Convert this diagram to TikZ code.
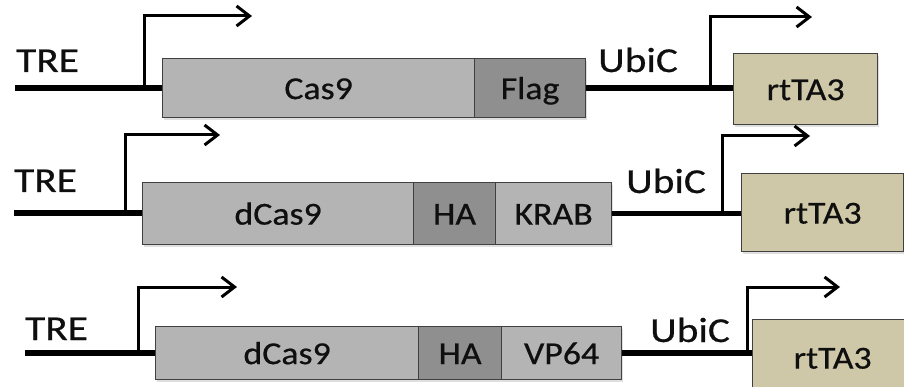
\documentclass[tikz,border=0pt]{standalone}
\usepackage{fontspec}
\setmainfont{Carlito}
\newfontfamily\boxfont[FakeStretch=1.12,FakeBold=0.6]{Carlito}
\newfontfamily\lblfont[FakeStretch=1.18,FakeBold=0.6]{Carlito}
\usetikzlibrary{arrows.meta,shadows}
\definecolor{lgray}{RGB}{180,180,180}
\definecolor{dgray}{RGB}{143,143,143}
\definecolor{tan}{RGB}{206,200,168}
\definecolor{edge}{RGB}{64,64,64}
\definecolor{ink}{RGB}{15,15,15}
\tikzset{
  gbox/.style={draw=edge, line width=1.2pt, rectangle, inner sep=0pt, anchor=north west,
    text=ink, font=\boxfont\fontsize{32}{32}\selectfont, text height=22pt, text depth=0pt,
    drop shadow={shadow xshift=1.5pt, shadow yshift=-2pt, opacity=0.25}},
  light/.style={gbox, fill=lgray},
  dark/.style={gbox, fill=dgray},
  rtbox/.style={gbox, fill=tan},
  dna/.style={line width=5.5pt, black},
  prom/.style={line width=3pt, black, -{Straight Barb[length=13pt,width=20pt]}},
  trelbl/.style={anchor=base west, inner sep=0pt, text=ink, font=\lblfont\fontsize{35}{35}\selectfont},
  ubilbl/.style={anchor=base west, inner sep=0pt, text=ink, font=\lblfont\fontsize{35}{35}\selectfont},
}
\begin{document}
\begin{tikzpicture}[x=1pt, y=-1pt]
\clip (0,0) rectangle (904,387);
\fill[white] (0,0) rectangle (904,387);

% ---------- Row 1 ----------
\coordinate (s1) at (15,88);
\coordinate (p1) at (144,88);
\coordinate (t1) at (252,16);
\coordinate (q1) at (710,88);
\coordinate (u1) at (812,17);
\node[trelbl] (tre1) at (16,72) {TRE};
\node[ubilbl] (ubi1) at (598,72) {UbiC};
\draw[dna] (s1) -- (162,88);
\node[light, minimum width=312pt, minimum height=59pt] (cas) at (162,58) {Cas9};
\node[dark, minimum width=111pt, minimum height=59pt] (flag) at (474,58) {Flag};
\node[rtbox, minimum width=144pt, minimum height=71pt] (rt1) at (733,53) {rtTA3};
\draw[dna] (flag.east) -- (flag.east -| rt1.west);
\draw[prom] (p1) |- (t1);
\draw[prom] (q1) |- (u1);

% ---------- Row 2 ----------
\coordinate (s2) at (14,213);
\coordinate (p2) at (125,213);
\coordinate (t2) at (220,135);
\coordinate (q2) at (722,213);
\coordinate (u2) at (810,136);
\node[trelbl] (tre2) at (14,192) {TRE};
\node[ubilbl] (ubi2) at (626,193) {UbiC};
\draw[dna] (s2) -- (142,213);
\node[light, minimum width=271pt, minimum height=62pt] (dc2) at (142,182) {dCas9};
\node[dark, minimum width=82pt, minimum height=62pt] (ha2) at (413,182) {HA};
\node[light, minimum width=116pt, minimum height=62pt] (krab) at (495,182) {KRAB};
\node[rtbox, minimum width=162pt, minimum height=78pt] (rt2) at (741,173) {rtTA3};
\draw[dna] (krab.east) -- (krab.east -| rt2.west);
\draw[prom] (p2) |- (t2);
\draw[prom] (q2) |- (u2);

% ---------- Row 3 ----------
\coordinate (s3) at (25,353);
\coordinate (p3) at (138,353);
\coordinate (t3) at (237,287);
\coordinate (q3) at (747,353);
\coordinate (u3) at (840,287);
\node[trelbl] (tre3) at (25,340) {TRE};
\node[ubilbl] (ubi3) at (650,342) {UbiC};
\draw[dna] (s3) -- (155,353);
\node[light, minimum width=263pt, minimum height=53pt] (dc3) at (155,326) {dCas9};
\node[dark, minimum width=83pt, minimum height=53pt] (ha3) at (418,326) {HA};
\node[light, minimum width=120pt, minimum height=53pt] (vp) at (501,326) {VP64};
\node[rtbox, minimum width=160pt, minimum height=76pt] (rt3) at (752,319) {rtTA3};
\draw[dna] (vp.east) -- (vp.east -| rt3.west);
\draw[prom] (p3) |- (t3);
\draw[prom] (q3) |- (u3);
\end{tikzpicture}
\end{document}
